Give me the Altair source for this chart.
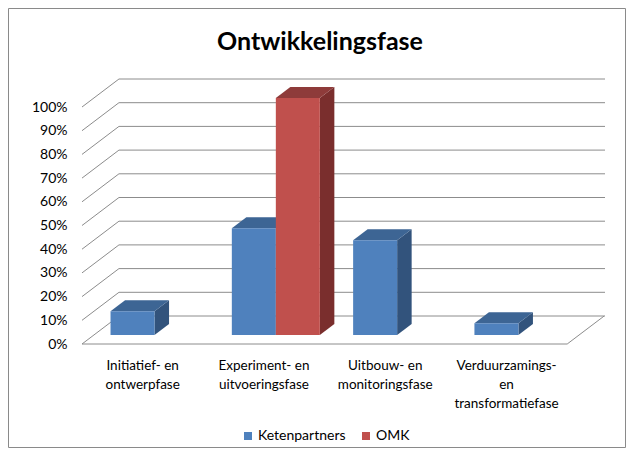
import altair as alt
import pandas as pd

# ---------------- data ----------------
categories = [
    "Initiatief- en\nontwerpfase",
    "Experiment- en\nuitvoeringsfase",
    "Uitbouw- en\nmonitoringsfase",
    "Verduurzamings-\nen\ntransformatiefase",
]
series = ["Ketenpartners", "OMK"]
ketenpartners = [10, 45, 40, 5]
omk = [0, 100, 0, 0]
y_ticks = [0, 10, 20, 30, 40, 50, 60, 70, 80, 90, 100]
title_text = "Ontwikkelingsfase"

# ---------------- layout / 3D projection ----------------
W, H = 523, 265          # plot area
KX = 121.3               # px per category slot
KY = 2.37                # px per percent
SLOPE = 1.32             # x shift per px of depth
XMAX = W / KX
YMAX = H / KY


def ddx(d):
    return d * SLOPE / KX


def ddy(d):
    return d / KY


BAR_W = 44 / KX
GAP = (1 - 2 * BAR_W) / 2
D_FRONT, D_BACK, D_WALL = 9, 20, 28

FRONT = {"Ketenpartners": "#4F81BD", "OMK": "#C0504D"}
TOP = {"Ketenpartners": "#3D6594", "OMK": "#8E3B3A"}
SIDE = {"Ketenpartners": "#32537C", "OMK": "#7A2E2D"}
GRID = "#8c8c8c"
FONT = "Lato"

xs = alt.Scale(domain=[0, XMAX], nice=False, zero=False)
ys = alt.Scale(domain=[0, YMAX], nice=False, zero=False)
yaxis = alt.Axis(values=y_ticks, labelExpr="datum.value + '%'", grid=False,
                 domain=False, ticks=False, tickSize=0, labelPadding=15,
                 labelFont=FONT, labelFontSize=14, labelColor="#000000",
                 title=None)

# ---------------- derived tables ----------------
values = {"Ketenpartners": ketenpartners, "OMK": omk}
front_rows, top_rows, side_rows = [], [], []
for i in range(len(categories)):
    for s_idx, s in enumerate(series):
        v = values[s][i]
        if v <= 0:
            continue
        bid = f"{i}-{s}"
        x0 = i + GAP + s_idx * BAR_W
        x1 = x0 + BAR_W
        front_rows.append({"series": s, "x0": x0 + ddx(D_FRONT), "x1": x1 + ddx(D_FRONT),
                           "y0": ddy(D_FRONT), "y1": v + ddy(D_FRONT)})
        for d in (D_FRONT, D_BACK):
            top_rows.append({"bar": bid, "series": s, "yy": v + ddy(d),
                             "xa": x0 + ddx(d), "xb": x1 + ddx(d)})
            side_rows.append({"bar": bid, "series": s, "xx": x1 + ddx(d),
                              "ylo": ddy(d), "yhi": v + ddy(d)})
front_df = pd.DataFrame(front_rows)
top_df = pd.DataFrame(top_rows)
side_df = pd.DataFrame(side_rows)

back_df = pd.DataFrame({"x": [ddx(D_WALL)] * len(y_ticks), "x2": [XMAX] * len(y_ticks),
                        "y": [t + ddy(D_WALL) for t in y_ticks]})
diag_df = pd.DataFrame({"x": [0.0] * len(y_ticks), "x2": [ddx(D_WALL)] * len(y_ticks),
                        "y": y_ticks, "y2": [t + ddy(D_WALL) for t in y_ticks]})
n = len(categories)
floor_df = pd.DataFrame({"x": [0.0, float(n)], "x2": [float(n), n + ddx(D_WALL)],
                         "y": [0.0, 0.0], "y2": [0.0, ddy(D_WALL)]})
label_df = pd.DataFrame({"cx": [i + 0.5 for i in range(n)], "label": categories})

# ---------------- layers ----------------
border = alt.Chart(pd.DataFrame({"a": [0]})).mark_rect(
    fillOpacity=0, stroke="#8a8a8a", strokeWidth=1
).encode(x=alt.value(-73.5), x2=alt.value(543.5), y=alt.value(-70.5), y2=alt.value(368.5))

back = alt.Chart(back_df).mark_rule(color=GRID, strokeWidth=1).encode(
    x=alt.X("x:Q", scale=xs, axis=None), x2="x2:Q",
    y=alt.Y("y:Q", scale=ys, axis=yaxis))

diag = alt.Chart(diag_df).mark_rule(color=GRID, strokeWidth=1).encode(
    x=alt.X("x:Q", scale=xs, axis=None), x2="x2:Q",
    y=alt.Y("y:Q", scale=ys, axis=yaxis), y2="y2:Q")

floor = alt.Chart(floor_df).mark_rule(color=GRID, strokeWidth=1).encode(
    x=alt.X("x:Q", scale=xs, axis=None), x2="x2:Q",
    y=alt.Y("y:Q", scale=ys, axis=yaxis), y2="y2:Q")

face_layers = []
for s in series:
    face_layers.append(
        alt.Chart(side_df).transform_filter(alt.datum.series == s)
        .mark_area(orient="vertical", color=SIDE[s])
        .encode(x=alt.X("xx:Q", scale=xs, axis=None),
                y=alt.Y("ylo:Q", scale=ys, axis=yaxis), y2="yhi:Q", detail="bar:N"))
    face_layers.append(
        alt.Chart(top_df).transform_filter(alt.datum.series == s)
        .mark_area(orient="horizontal", color=TOP[s])
        .encode(y=alt.Y("yy:Q", scale=ys, axis=yaxis),
                x=alt.X("xa:Q", scale=xs, axis=None), x2="xb:Q", detail="bar:N"))

fronts = alt.Chart(front_df).mark_rect().encode(
    x=alt.X("x0:Q", scale=xs, axis=None), x2="x1:Q",
    y=alt.Y("y0:Q", scale=ys, axis=yaxis), y2="y1:Q",
    color=alt.Color("series:N",
                    scale=alt.Scale(domain=series, range=[FRONT[s] for s in series]),
                    legend=alt.Legend(orient="none", legendX=159, legendY=350,
                                      direction="horizontal", title=None,
                                      symbolType="square", symbolSize=64,
                                      symbolStrokeWidth=0, labelFont=FONT,
                                      labelFontSize=14, labelColor="#000000",
                                      labelOffset=3, columnPadding=13, padding=0)))

xlabels = alt.Chart(label_df).mark_text(
    font=FONT, fontSize=13.5, lineBreak="\n", lineHeight=19, baseline="top",
    align="center", color="#000000"
).encode(x=alt.X("cx:Q", scale=xs, axis=None), y=alt.value(280), text="label:N")

title = alt.Chart(pd.DataFrame({"t": [title_text]})).mark_text(
    font=FONT, fontSize=25, fontWeight="bold", align="center", baseline="middle",
    color="#000000"
).encode(x=alt.value(238), y=alt.value(-37), text="t:N")

chart = alt.layer(border, back, diag, floor, *face_layers, fronts, xlabels, title).properties(
    width=W, height=H,
    padding={"left": 74, "top": 71, "right": 21, "bottom": 104},
    autosize=alt.AutoSizeParams(type="none"),
).configure_view(stroke=None)

chart.save("out.html", embed_options={"renderer": "svg", "actions": False})
